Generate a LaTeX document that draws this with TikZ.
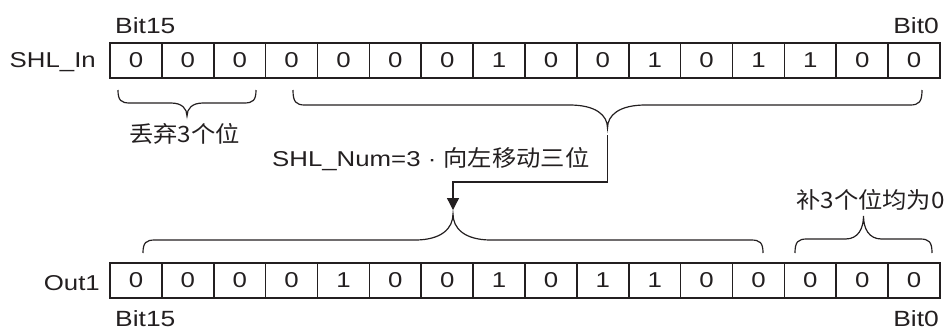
\documentclass[tikz,border=0pt]{standalone}
\usepackage{fontspec}
\setmainfont{Liberation Sans}[FakeStretch=1.2]
\newfontfamily\cjk{Noto Sans CJK SC}[FakeStretch=1.08]
\usetikzlibrary{arrows.meta,calc}
\definecolor{ink}{RGB}{35,31,32}
\newcommand\curlybrace[6]{% #1 left x, #2 right x, #3 end y, #4 shoulder y, #5 tip y, #6 transition width
  \draw[brc] (#1,#3) .. controls (#1,{#3+0.8*(#4-#3)}) and ({#1+3},#4) .. ({#1+12},#4)
    -- ({(#1+#2)/2-#6},#4)
    .. controls ({(#1+#2)/2-0.3*#6},#4) and ({(#1+#2)/2},{#4+0.45*(#5-#4)}) .. ({(#1+#2)/2},#5)
    .. controls ({(#1+#2)/2},{#4+0.45*(#5-#4)}) and ({(#1+#2)/2+0.3*#6},#4) .. ({(#1+#2)/2+#6},#4)
    -- ({#2-12},#4) .. controls ({#2-3},#4) and (#2,{#3+0.8*(#4-#3)}) .. (#2,#3);
}
\begin{document}
\begin{tikzpicture}[x=1pt,y=-1pt,
  cell/.style={draw=ink,line width=1.6pt,minimum width=51.875pt,minimum height=35pt,inner sep=0pt,
    font=\fontsize{21.5}{22}\selectfont,text=ink},
  lbl/.style={inner sep=0pt,text=ink,font=\fontsize{21.5}{24}\selectfont},
  bitlbl/.style={inner sep=0pt,text=ink,font=\fontsize{22}{24}\selectfont},
  cjklbl/.style={inner sep=0pt,text=ink,font=\cjk\fontsize{22.5}{26}\selectfont},
  brc/.style={draw=ink,line width=1.2pt},
  conn/.style={draw=ink,line width=1.3pt}]
\useasboundingbox (0,0) rectangle (951,330);
% top register
\foreach \v [count=\i] in {0,0,0,0,0,0,0,1,0,0,1,0,1,1,0,0}
  \node[cell] (t\i) at ({110+51.875*(\i-0.5)},60.5) {\v};
% bottom register
\foreach \v [count=\i] in {0,0,0,0,1,0,0,1,0,1,1,0,0,0,0,0}
  \node[cell] (b\i) at ({110+51.875*(\i-0.5)},280.5) {\v};
% labels
\node[lbl,anchor=base east] (inlbl) at (96,67.5) {SHL\_In};
\node[lbl,anchor=base east] (outlbl) at (100,290) {Out1};
\node[bitlbl,anchor=base west] (tb15) at (115,33) {Bit15};
\node[bitlbl,anchor=base east] (tb0) at (939,33) {Bit0};
\node[bitlbl,anchor=base west] (bb15) at (115,326) {Bit15};
\node[bitlbl,anchor=base east] (bb0) at (939,326) {Bit0};
\node[cjklbl] (drop) at (184.5,133.5) {丢弃3个位};
\node[cjklbl] (fill) at (870.5,200) {补3个位均为0};
\node[lbl,anchor=base west] (shift) at (272,166) {SHL\_Num=3 · {\cjk\fontsize{22.5}{26}\selectfont 向左移动三位}};
% braces
\curlybrace{118}{256}{90}{103}{116}{16}
\curlybrace{293}{922}{90}{105}{128}{38}
\curlybrace{143}{763}{253}{240}{214}{38}
\curlybrace{795}{932}{253}{239}{216}{18}
% connector
\coordinate (c1) at (607.5,135);
\coordinate (bend) at (0,182);
\coordinate (c2) at (453,210);
\draw[conn,-{Triangle[width=12pt,length=12pt]}] (c1) -- (c1 |- bend) -| (c2);
\end{tikzpicture}
\end{document}
